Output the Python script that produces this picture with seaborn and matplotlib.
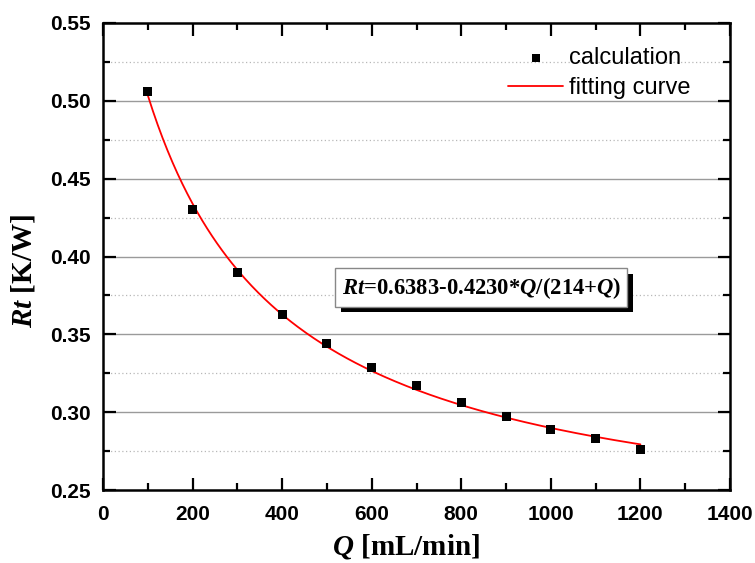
import numpy as np
import pandas as pd
import matplotlib
matplotlib.use("Agg")
import matplotlib.pyplot as plt
import matplotlib.patheffects as pe
from matplotlib.ticker import MultipleLocator
import seaborn as sns

# data
Q_calc = [100, 200, 300, 400, 500, 600, 700, 800, 900, 1000, 1100, 1200]
Rt_calc = [0.506, 0.430, 0.390, 0.363, 0.344, 0.329, 0.317, 0.306, 0.297, 0.289, 0.283, 0.276]
# fitting curve parameters shown in the chart: Rt = a - b*Q/(c+Q)
fit_a, fit_b, fit_c = 0.6383, 0.4230, 214.0
fit_range = [100, 1200]
x_ticks = [0, 200, 400, 600, 800, 1000, 1200, 1400]
y_ticks = [0.25, 0.30, 0.35, 0.40, 0.45, 0.50, 0.55]

sns.set_style("ticks")
plt.rcParams["font.family"] = ["Liberation Sans", "DejaVu Sans"]
plt.rcParams["text.color"] = "black"
plt.rcParams["axes.labelcolor"] = "black"
plt.rcParams["mathtext.fontset"] = "custom"
plt.rcParams["mathtext.rm"] = "Liberation Serif:bold"
plt.rcParams["mathtext.it"] = "Liberation Serif:bold:italic"
plt.rcParams["mathtext.bf"] = "Liberation Serif:bold"

fig = plt.figure(figsize=(7.55, 5.63), dpi=100)
ax = fig.add_axes([103/755, 1-490/563, 627/755, 467/563])

calc = pd.DataFrame({"Q": Q_calc, "Rt": Rt_calc})
qf = np.linspace(fit_range[0], fit_range[1], 300)
fit = pd.DataFrame({"Q": qf, "Rt": fit_a - fit_b*qf/(fit_c+qf)})

ax.set_xlim(0, 1400)
ax.set_ylim(0.25, 0.55)
ax.set_xticks(x_ticks)
ax.set_yticks(y_ticks)
ax.xaxis.set_minor_locator(MultipleLocator(100))
ax.yaxis.set_minor_locator(MultipleLocator(0.025))
ax.set_yticklabels([f"{v:.2f}" for v in y_ticks])

ax.grid(False)
for v in y_ticks[1:-1]:
    ax.axhline(v, color="#9a9a9a", lw=1.0, zorder=0)
for v in np.arange(0.275, 0.55, 0.05):
    ax.axhline(v, color="#b8b8b8", lw=0.9, ls=(0, (1, 2)), zorder=0)

sns.lineplot(data=fit, x="Q", y="Rt", ax=ax, color="#ff0000", lw=1.3,
             label="fitting curve", zorder=2)
sns.scatterplot(data=calc, x="Q", y="Rt", ax=ax, marker="s", color="black",
                s=42, edgecolor="none", label="calculation", zorder=3)

for sp in ax.spines.values():
    sp.set_visible(True)
    sp.set_linewidth(1.8)
    sp.set_color("black")

ax.tick_params(which="both", direction="in", top=True, right=True,
               width=1.6, colors="black")
ax.tick_params(which="major", length=9, labelsize=15)
ax.tick_params(axis="x", which="major", pad=11)
ax.tick_params(axis="y", which="major", pad=9)
ax.tick_params(which="minor", length=5)
for lab in ax.get_xticklabels() + ax.get_yticklabels():
    lab.set_fontweight("bold")

ax.set_xlabel(r"$\mathit{Q}$ [mL/min]", fontfamily="Liberation Serif",
              fontweight="bold", fontsize=21, color="black")
ax.set_ylabel(r"$\mathit{Rt}$ [K/W]", fontfamily="Liberation Serif",
              fontweight="bold", fontsize=21, color="black")
ax.xaxis.set_label_coords(0.483, -0.090)
ax.yaxis.set_label_coords(-0.104, 0.469)

h, l = ax.get_legend_handles_labels()
order = [l.index("calculation"), l.index("fitting curve")]
leg = ax.legend([h[i] for i in order], [l[i] for i in order], frameon=False,
                loc="upper right", bbox_to_anchor=(0.971, 0.994), fontsize=17,
                handlelength=2.33, handletextpad=0.25, labelspacing=0.33,
                markerscale=0.9, labelcolor="black")

t = ax.text(845, 0.380, r"$\mathit{Rt}$=0.6383-0.4230*$\mathit{Q}$/(214+$\mathit{Q}$)",
            fontfamily="Liberation Serif", fontweight="bold", fontsize=16.3,
            ha="center", va="center", zorder=5, color="black",
            bbox=dict(boxstyle="square,pad=0.28", fc="white", ec="#888888", lw=1.0))
t.get_bbox_patch().set_path_effects([
    pe.SimplePatchShadow(offset=(4, -4), shadow_rgbFace="black", alpha=1.0),
    pe.Normal()])

fig.savefig("out.png", dpi=100)
